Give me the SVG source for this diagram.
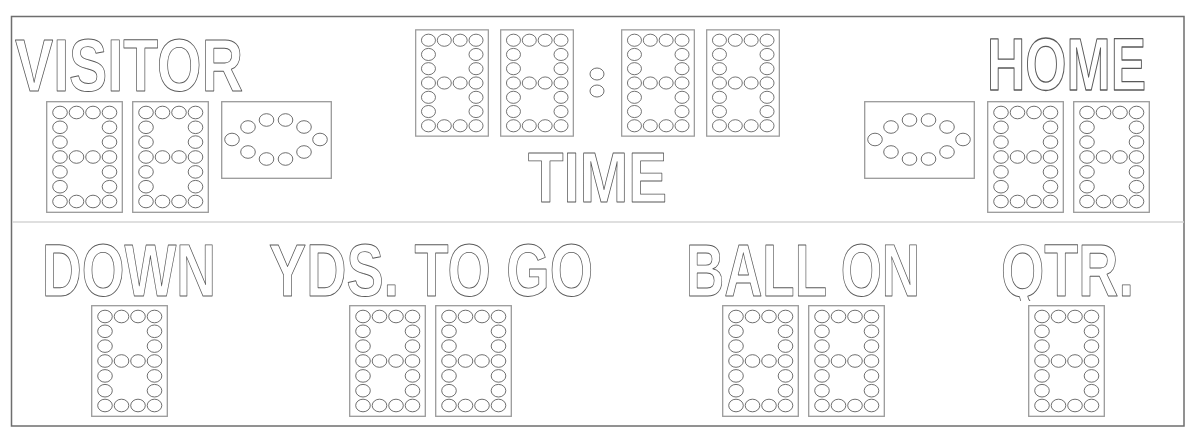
<svg xmlns="http://www.w3.org/2000/svg" xmlns:xlink="http://www.w3.org/1999/xlink" width="1200" height="441" viewBox="0 0 1200 441">
<style>
.bg{fill:#ffffff}
.frame{fill:none;stroke:#6e6e6e;stroke-width:1.5}
.divider{stroke:#d4d4d4;stroke-width:1.5}
.box{fill:#ffffff;stroke:#9a9a9a;stroke-width:1.3}
.led{fill:#ffffff;stroke:#4a4a4a;stroke-width:0.8}
.lbl{font-family:"Liberation Sans",Arial,sans-serif;font-weight:bold;fill:#ffffff;stroke:#5a5a5a;stroke-width:0.9;stroke-linejoin:round}
</style>
<defs>
<clipPath id="qclip"><rect x="990" y="230" width="160" height="71"/></clipPath>
<symbol id="digit" viewBox="0 0 77 112">
<rect class="box" x="0.7" y="0.7" width="75.6" height="110.6"/>
<g class="led">
<ellipse cx="14" cy="11.5" rx="7.3" ry="6.3"/><ellipse cx="30.5" cy="11.5" rx="7.3" ry="6.3"/><ellipse cx="47" cy="11.5" rx="7.3" ry="6.3"/><ellipse cx="63.5" cy="11.5" rx="7.3" ry="6.3"/>
<ellipse cx="14" cy="26.3" rx="7.3" ry="6.3"/><ellipse cx="63.5" cy="26.3" rx="7.3" ry="6.3"/>
<ellipse cx="14" cy="41.1" rx="7.3" ry="6.3"/><ellipse cx="63.5" cy="41.1" rx="7.3" ry="6.3"/>
<ellipse cx="14" cy="56" rx="7.3" ry="6.3"/><ellipse cx="30.5" cy="56" rx="7.3" ry="6.3"/><ellipse cx="47" cy="56" rx="7.3" ry="6.3"/><ellipse cx="63.5" cy="56" rx="7.3" ry="6.3"/>
<ellipse cx="14" cy="70.9" rx="7.3" ry="6.3"/><ellipse cx="63.5" cy="70.9" rx="7.3" ry="6.3"/>
<ellipse cx="14" cy="85.7" rx="7.3" ry="6.3"/><ellipse cx="63.5" cy="85.7" rx="7.3" ry="6.3"/>
<ellipse cx="14" cy="100.5" rx="7.3" ry="6.3"/><ellipse cx="30.5" cy="100.5" rx="7.3" ry="6.3"/><ellipse cx="47" cy="100.5" rx="7.3" ry="6.3"/><ellipse cx="63.5" cy="100.5" rx="7.3" ry="6.3"/>
</g>
</symbol>
<symbol id="oval" viewBox="0 0 111 78">
<rect class="box" x="0.7" y="0.7" width="109.6" height="76.6"/>
<g class="led">
<ellipse cx="11" cy="38.5" rx="7.3" ry="6.3"/><ellipse cx="99" cy="38.5" rx="7.3" ry="6.3"/>
<ellipse cx="27" cy="26" rx="7.3" ry="6.3"/><ellipse cx="45.5" cy="19" rx="7.3" ry="6.3"/><ellipse cx="64.5" cy="19" rx="7.3" ry="6.3"/><ellipse cx="83" cy="26" rx="7.3" ry="6.3"/>
<ellipse cx="27" cy="51" rx="7.3" ry="6.3"/><ellipse cx="45.5" cy="58" rx="7.3" ry="6.3"/><ellipse cx="64.5" cy="58" rx="7.3" ry="6.3"/><ellipse cx="83" cy="51" rx="7.3" ry="6.3"/>
</g>
</symbol>
</defs>
<rect class="bg" x="0" y="0" width="1200" height="441"/>
<g id="board">
<rect class="frame" x="11.5" y="16.5" width="1172.5" height="409.5"/>
<line class="divider" x1="12" y1="222" x2="1184" y2="222"/>
</g>
<g id="visitor">
<text class="lbl" x="15" y="91" font-size="74" textLength="228" lengthAdjust="spacingAndGlyphs">VISITOR</text>
<use xlink:href="#digit" x="46" y="101" width="77" height="112"/>
<use xlink:href="#digit" x="132" y="101" width="77" height="112"/>
<use xlink:href="#oval" x="221" y="101" width="111" height="78"/>
</g>
<g id="time">
<use xlink:href="#digit" x="415" y="28" width="74" height="110" preserveAspectRatio="none"/>
<use xlink:href="#digit" x="500" y="28" width="74" height="110" preserveAspectRatio="none"/>
<g class="led"><ellipse cx="597" cy="74" rx="7" ry="6"/><ellipse cx="597" cy="91" rx="7" ry="6"/></g>
<use xlink:href="#digit" x="621" y="28" width="74" height="110" preserveAspectRatio="none"/>
<use xlink:href="#digit" x="706" y="28" width="74" height="110" preserveAspectRatio="none"/>
<text class="lbl" x="528" y="202" font-size="71" textLength="139" lengthAdjust="spacingAndGlyphs">TIME</text>
</g>
<g id="home">
<text class="lbl" transform="translate(987,90) scale(1,1.42)" x="0" y="0" font-size="52" stroke-width="0.75" textLength="159" lengthAdjust="spacingAndGlyphs">HOME</text>
<use xlink:href="#oval" x="864" y="101" width="111" height="78"/>
<use xlink:href="#digit" x="987" y="101" width="77" height="112"/>
<use xlink:href="#digit" x="1073" y="101" width="77" height="112"/>
</g>
<g id="down">
<text class="lbl" x="42" y="296" font-size="74" textLength="174" lengthAdjust="spacingAndGlyphs">DOWN</text>
<use xlink:href="#digit" x="91" y="305" width="77" height="112"/>
</g>
<g id="yds-to-go">
<text class="lbl" x="269" y="296" font-size="74" textLength="324" lengthAdjust="spacingAndGlyphs">YDS. TO GO</text>
<use xlink:href="#digit" x="349" y="305" width="77" height="112"/>
<use xlink:href="#digit" x="435" y="305" width="77" height="112"/>
</g>
<g id="ball-on">
<text class="lbl" x="686" y="296" font-size="74" textLength="234" lengthAdjust="spacingAndGlyphs">BALL ON</text>
<use xlink:href="#digit" x="722" y="305" width="77" height="112"/>
<use xlink:href="#digit" x="808" y="305" width="77" height="112"/>
</g>
<g id="qtr">
<text class="lbl" x="1001" y="296" font-size="74" textLength="133" lengthAdjust="spacingAndGlyphs" clip-path="url(#qclip)">QTR.</text>
<use xlink:href="#digit" x="1028" y="305" width="77" height="112"/>
</g>
</svg>
